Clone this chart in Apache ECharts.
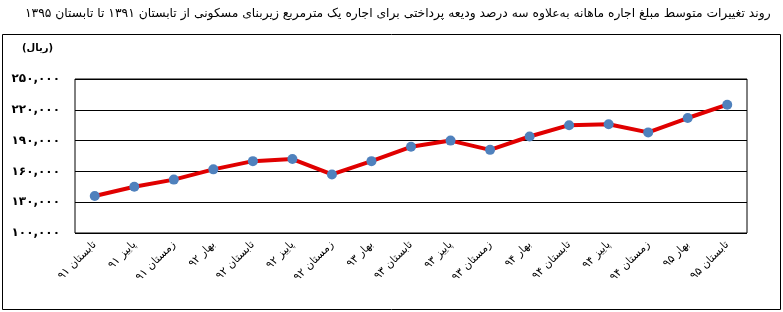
<!DOCTYPE html>
<html>
<head>
<meta charset="utf-8">
<script src="https://cdn.jsdelivr.net/npm/echarts@6/dist/echarts.min.js"></script>
<style>html,body{margin:0;padding:0;background:#fff}#c{width:783px;height:312px}</style>
</head>
<body>
<div id="c"></div>
<script>
const titleText = 'روند تغییرات متوسط مبلغ اجاره ماهانه به‌علاوه سه درصد ودیعه پرداختی برای اجاره یک مترمربع زیربنای مسکونی از تابستان ۱۳۹۱ تا تابستان ۱۳۹۵';
const unitText = '(ریال)';
const categories = ['تابستان ۹۱','پاییز ۹۱','زمستان ۹۱','بهار ۹۲','تابستان ۹۲','پاییز ۹۲','زمستان ۹۲','بهار ۹۳','تابستان ۹۳','پاییز ۹۳','زمستان ۹۳','بهار ۹۴','تابستان ۹۴','پاییز ۹۴','زمستان ۹۴','بهار ۹۵','تابستان ۹۵'];
const rentValues = [136000,145000,152000,162000,170000,172000,157000,170000,184000,190000,181000,194000,205000,206000,198000,212000,225000];
const yTicks = [100000,130000,160000,190000,220000,250000];

function toFa(n){
  const s = n.toLocaleString('en-US');
  return s.replace(/[0-9]/g, d => '۰۱۲۳۴۵۶۷۸۹'[+d]);
}
const FONT = 'DejaVu Sans';
const chart = echarts.init(document.getElementById('c'), null, {renderer:'canvas'});
chart.setOption({
  animation:false,
  textStyle:{fontFamily:FONT},
  title:{text:titleText,left:20,top:3,textStyle:{fontSize:12.3,fontWeight:'normal',color:'#000',fontFamily:FONT}},
  grid:{left:75,right:36,top:79,bottom:79,show:true,borderColor:'#000',borderWidth:1,containLabel:false},
  graphic:[
    {type:'rect',shape:{x:2.5,y:34.5,width:778,height:275},style:{fill:null,stroke:'#000',lineWidth:1},silent:true,z:-1},
    {type:'text',left:22,top:43,style:{text:unitText,font:'bold 10px "DejaVu Sans"',fill:'#000'}}
  ],
  xAxis:{type:'category',data:categories,boundaryGap:true,
    axisLine:{show:false},axisTick:{show:false},
    axisLabel:{rotate:45,fontSize:11,color:'#000',margin:10,fontFamily:FONT,interval:0}},
  yAxis:{type:'value',min:100000,max:250000,interval:30000,
    axisLine:{show:false},axisTick:{show:false},
    splitLine:{lineStyle:{color:'#000',width:1}},
    axisLabel:{formatter:v=>toFa(v),fontSize:12,fontWeight:'bold',color:'#000',margin:15,fontFamily:FONT}},
  series:[{type:'line',data:rentValues,symbol:'circle',symbolSize:10,
    lineStyle:{color:'#e00000',width:4},itemStyle:{color:'#4f81bd'}}]
});
</script>
</body>
</html>
